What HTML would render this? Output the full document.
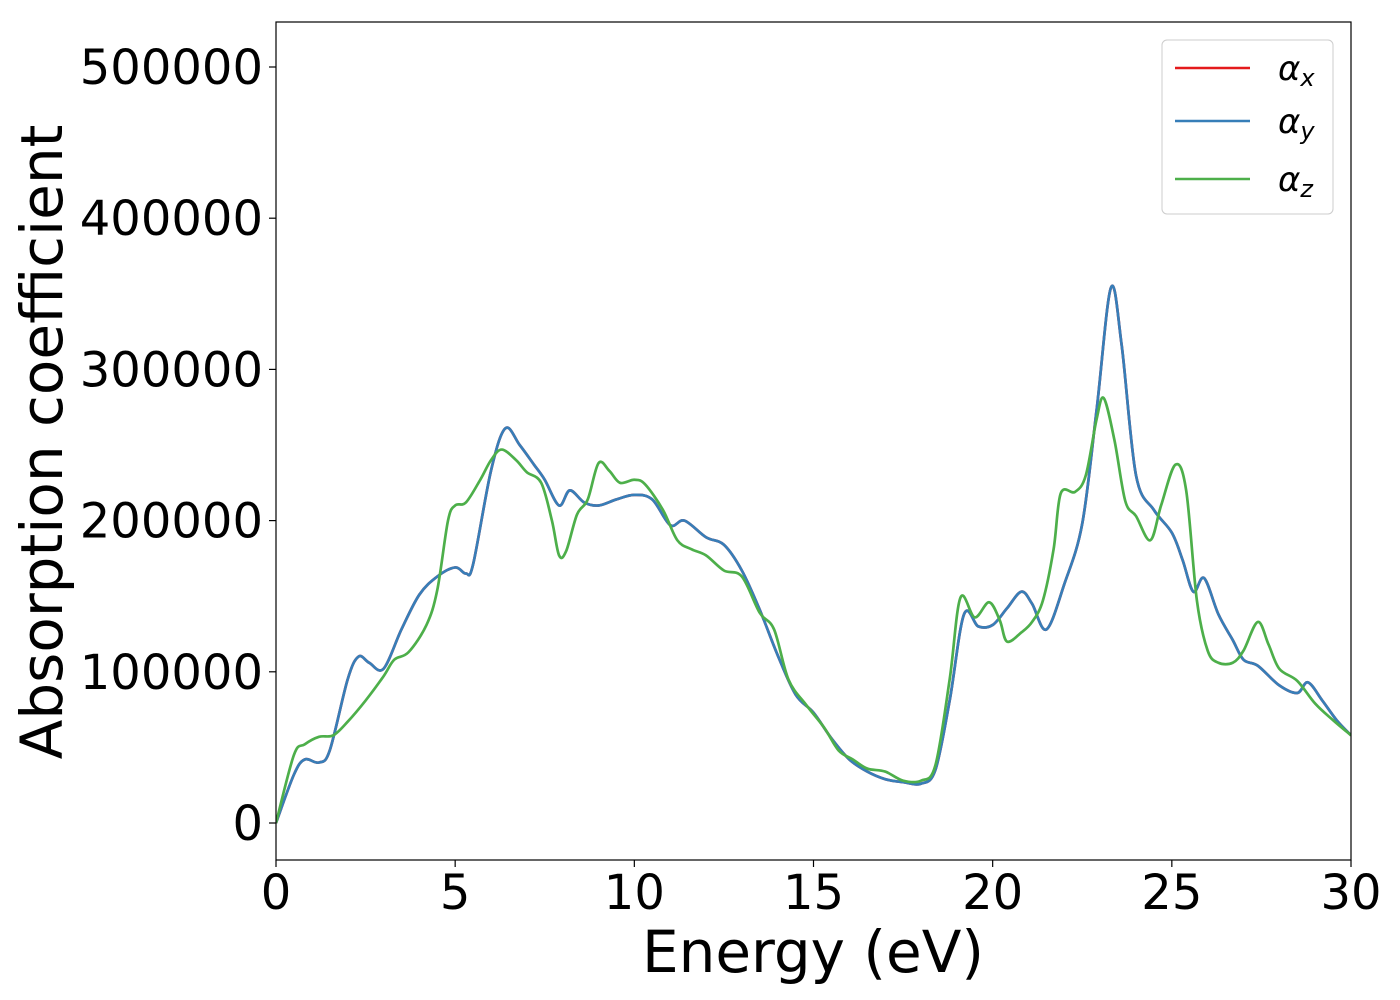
<!DOCTYPE html>
<html><head><meta charset="utf-8">
<style>
html,body{margin:0;padding:0;background:#fff;}
svg{display:block;font-family:"DejaVu Sans","Liberation Sans",sans-serif;}
</style></head>
<body>
<svg id="chart" width="1400" height="1000" viewBox="0 0 1400 1000" xmlns="http://www.w3.org/2000/svg">
  <rect x="276" y="22" width="1075" height="838" fill="#fff" stroke="none"/>
  <g id="series"></g>
  <rect x="276" y="22" width="1075" height="838" fill="none" stroke="#000" stroke-width="1.2"/>
  <g id="xticks"></g>
  <g id="yticks"></g>
  <text x="813" y="972" font-size="58" text-anchor="middle">Energy (eV)</text>
  <text transform="translate(62,442) rotate(-90)" font-size="58" text-anchor="middle">Absorption coefficient</text>
  <g>
    <rect x="1162" y="40" width="171" height="174" rx="5" fill="#fff" fill-opacity="0.8" stroke="#ccc" stroke-width="1"/>
    <line x1="1175" y1="68" x2="1250" y2="68" stroke="#e41a1c" stroke-width="2.5"/>
    <text x="1278" y="80" font-size="34" font-style="italic">α<tspan font-size="24" dy="6">x</tspan></text>
    <line x1="1175" y1="121" x2="1250" y2="121" stroke="#377eb8" stroke-width="2.5"/>
    <text x="1278" y="133" font-size="34" font-style="italic">α<tspan font-size="24" dy="6">y</tspan></text>
    <line x1="1175" y1="179" x2="1250" y2="179" stroke="#4daf4a" stroke-width="2.5"/>
    <text x="1278" y="191" font-size="34" font-style="italic">α<tspan font-size="24" dy="6">z</tspan></text>
  </g>
</svg>
<script>
const xyE = [0,0.5,0.8,1.2,1.5,2.0,2.3,2.6,3.0,3.5,4.0,4.5,5.0,5.3,5.5,6.0,6.4,6.8,7.2,7.5,7.9,8.2,8.6,9.0,9.5,10,10.5,11,11.4,12,12.5,13,13.5,14,14.5,15,15.5,16,16.5,17,17.5,18,18.4,18.8,19.2,19.6,20,20.4,20.8,21.1,21.5,22,22.5,22.9,23.3,23.6,24,24.5,25,25.3,25.6,25.9,26.3,26.7,27,27.4,28,28.5,28.8,29.2,29.6,30];
const alphaX = [0,32000,42000,40000,48000,95000,110000,106000,102000,128000,151000,163000,169000,165000,171000,233000,261000,250000,237000,227000,210000,220000,212000,210000,214000,217000,214000,197000,200000,189000,184000,167000,141000,111000,85000,73000,56000,42000,34000,29000,27000,26000,35000,81000,138000,130000,131000,142000,153000,145000,128000,158000,198000,273000,354000,316000,230000,207000,192000,174000,153000,162000,138000,121000,108000,104000,91000,86000,93000,81000,68000,58000];
const alphaY = alphaX.slice();
const zE = [0,0.5,0.8,1.2,1.6,2.0,2.5,3.0,3.3,3.7,4.2,4.5,4.8,5.0,5.3,5.7,6.0,6.3,6.7,7.0,7.4,7.7,7.9,8.1,8.4,8.7,9.0,9.3,9.6,10,10.3,10.8,11.2,11.6,12,12.5,13,13.5,13.9,14.3,14.8,15.3,15.7,16.1,16.5,17,17.5,18,18.4,18.8,19.1,19.5,19.9,20.2,20.4,20.8,21.1,21.4,21.7,21.9,22.3,22.6,22.9,23.1,23.4,23.7,24,24.4,24.7,25.1,25.4,25.7,26,26.3,26.7,27.0,27.4,27.7,28,28.5,29,29.5,30];
const alphaZ = [0,45000,52000,57000,58000,67000,81000,97000,108000,113000,131000,154000,200000,210000,212000,227000,240000,247000,240000,232000,225000,200000,177000,180000,204000,214000,238000,233000,225000,227000,224000,207000,187000,181000,177000,167000,163000,139000,128000,95000,78000,63000,48000,42000,36000,34000,28000,28000,38000,95000,149000,136000,146000,134000,120000,126000,133000,147000,181000,218000,219000,230000,267000,281000,253000,213000,203000,187000,210000,237000,220000,147000,114000,106000,106000,114000,133000,118000,102000,94000,79000,68000,58000];
const xTicks = [0,5,10,15,20,25,30];
const yTicks = [0,100000,200000,300000,400000,500000];

const NS = "http://www.w3.org/2000/svg";
const X0 = 276, X1 = 1351, XMIN = 0, XMAX = 30;
const Y0PX = 823, YPER = 151.2/100000;
function xs(v){ return X0 + (v - XMIN) / (XMAX - XMIN) * (X1 - X0); }
function ys(v){ return Y0PX - v * YPER; }

function pathFor(E, V){
  const p = E.map((e,i)=>[xs(e), ys(V[i])]);
  let d = "M" + p[0][0].toFixed(2) + "," + p[0][1].toFixed(2);
  for (let i=0;i<p.length-1;i++){
    const a = p[Math.max(i-1,0)], b = p[i], c = p[i+1], n = p[Math.min(i+2,p.length-1)];
    const t = 1/6;
    const c1 = [b[0]+(c[0]-a[0])*t, b[1]+(c[1]-a[1])*t];
    const c2 = [c[0]-(n[0]-b[0])*t, c[1]-(n[1]-b[1])*t];
    d += " C"+c1[0].toFixed(2)+","+c1[1].toFixed(2)+" "+c2[0].toFixed(2)+","+c2[1].toFixed(2)+" "+c[0].toFixed(2)+","+c[1].toFixed(2);
  }
  return d;
}

const sg = document.getElementById("series");
const defs = document.createElementNS(NS,"clipPath");
defs.setAttribute("id","clip");
const cr = document.createElementNS(NS,"rect");
cr.setAttribute("x",X0); cr.setAttribute("y",22); cr.setAttribute("width",X1-X0); cr.setAttribute("height",838);
defs.appendChild(cr); sg.appendChild(defs);
sg.setAttribute("clip-path","url(#clip)");

function addLine(E, V, color, name){
  const el = document.createElementNS(NS,"path");
  el.setAttribute("d", pathFor(E,V));
  el.setAttribute("fill","none");
  el.setAttribute("stroke",color);
  el.setAttribute("stroke-width","2.7");
  el.setAttribute("stroke-linejoin","round");
  
  
  sg.appendChild(el);
}
addLine(xyE, alphaX, "#e41a1c", "line-alpha-x");
addLine(xyE, alphaY, "#377eb8", "line-alpha-y");
addLine(zE, alphaZ, "#4daf4a", "line-alpha-z");

const xg = document.getElementById("xticks");
xTicks.forEach(t=>{
  const l = document.createElementNS(NS,"line");
  l.setAttribute("x1",xs(t)); l.setAttribute("x2",xs(t));
  l.setAttribute("y1",860); l.setAttribute("y2",867);
  l.setAttribute("stroke","#000"); l.setAttribute("stroke-width","1.2");
  
  
  xg.appendChild(l);
  const tx = document.createElementNS(NS,"text");
  tx.setAttribute("x",xs(t)); tx.setAttribute("y",909);
  tx.setAttribute("font-size","48"); tx.setAttribute("text-anchor","middle");
  tx.textContent = t;
  
  
  xg.appendChild(tx);
});
const yg = document.getElementById("yticks");
yTicks.forEach(t=>{
  const l = document.createElementNS(NS,"line");
  l.setAttribute("x1",269); l.setAttribute("x2",276);
  l.setAttribute("y1",ys(t)); l.setAttribute("y2",ys(t));
  l.setAttribute("stroke","#000"); l.setAttribute("stroke-width","1.2");
  
  
  yg.appendChild(l);
  const tx = document.createElementNS(NS,"text");
  tx.setAttribute("x",263); tx.setAttribute("y",ys(t)+17);
  tx.setAttribute("font-size","48"); tx.setAttribute("text-anchor","end");
  tx.textContent = t;
  
  
  yg.appendChild(tx);
});
</script>
</body></html>
